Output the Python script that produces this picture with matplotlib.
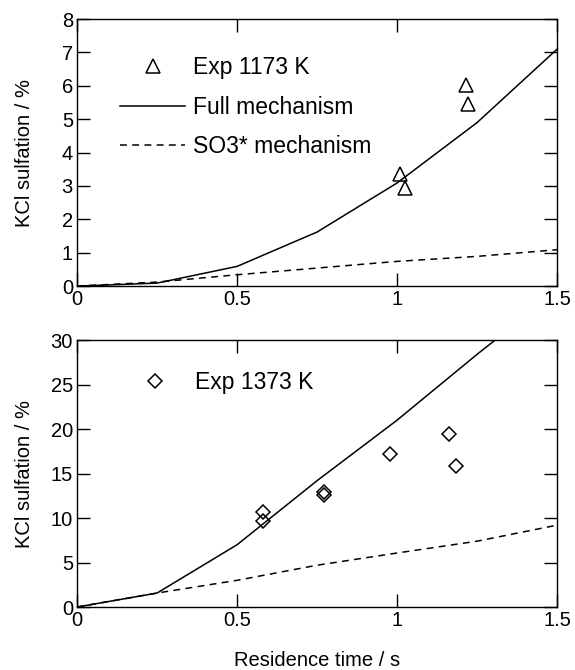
import matplotlib
matplotlib.use("Agg")
import matplotlib.pyplot as plt

plt.rcParams['font.family'] = ['Liberation Sans', 'DejaVu Sans']

# model time grid (s)
t_model = [0, 0.25, 0.5, 0.75, 1.0, 1.25, 1.5]

# 1173 K
full_1173 = [0, 0.09, 0.59, 1.62, 3.09, 4.9, 7.1]
so3_1173 = [0, 0.12, 0.34, 0.54, 0.74, 0.89, 1.09]
exp_t_1173 = [1.008, 1.024, 1.215, 1.222]
exp_y_1173 = [3.35, 2.94, 6.03, 5.45]

# 1373 K
full_1373 = [0, 1.57, 7.0, 14.2, 21.0, 28.4, 35.5]
so3_1373 = [0, 1.57, 3.0, 4.7, 6.07, 7.4, 9.2]
exp_t_1373 = [0.581, 0.581, 0.772, 0.772, 0.977, 1.1625, 1.183]
exp_y_1373 = [10.65, 9.64, 12.94, 12.56, 17.14, 19.39, 15.8]

fs = 14.5
lfs = 16.5
fig = plt.figure(figsize=(5.75, 6.7), dpi=100)
ax1 = fig.add_axes([0.134, 0.573, 0.835, 0.3986])
ax2 = fig.add_axes([0.134, 0.094, 0.835, 0.3985])


def style(ax, ymax, yticks):
    ax.set_xlim(0, 1.5)
    ax.set_ylim(0, ymax)
    ax.set_xticks([0, 0.5, 1, 1.5])
    ax.set_xticklabels(['0', '0.5', '1', '1.5'])
    ax.set_yticks(yticks)
    ax.tick_params(direction='in', length=9.5, width=1, top=True, right=True,
                   labelsize=fs, pad=3)
    for s in ax.spines.values():
        s.set_linewidth(1)
    ax.set_ylabel('KCl sulfation / %', fontsize=fs)
    ax.yaxis.set_label_coords(-0.089, 0.5)


lw = 1.1
ax1.plot(t_model, full_1173, '-', color='black', lw=lw, label='Full mechanism')
ax1.plot(t_model, so3_1173, '--', color='black', lw=lw, dashes=(4.5, 3.5), label='SO3* mechanism')
ax1.plot(exp_t_1173, exp_y_1173, '^', ms=10, mfc='none', mec='black', mew=1.1, ls='none',
         label='Exp 1173 K', clip_on=False)
style(ax1, 8, range(0, 9))
h, l = ax1.get_legend_handles_labels()
ax1.legend([h[2], h[0], h[1]], [l[2], l[0], l[1]], loc='upper left', bbox_to_anchor=(0.09, 0.861),
           frameon=False, fontsize=lfs, handlelength=2.84, handletextpad=0.35, labelspacing=0.72,
           borderaxespad=0, borderpad=0)

ax2.plot(t_model, full_1373, '-', color='black', lw=lw)
ax2.plot(t_model, so3_1373, '--', color='black', lw=lw, dashes=(4.5, 3.5))
ax2.plot(exp_t_1373, exp_y_1373, 'D', ms=7.5, mfc='none', mec='black', mew=1.1, ls='none',
         label='Exp 1373 K')
style(ax2, 30, range(0, 31, 5))
ax2.legend(loc='upper left', bbox_to_anchor=(0.095, 0.884), frameon=False, fontsize=lfs,
           handlelength=2.84, handletextpad=0.33, borderaxespad=0, borderpad=0)
ax2.set_xlabel('Residence time / s', fontsize=fs, labelpad=15)

fig.savefig('out.png', dpi=100)
